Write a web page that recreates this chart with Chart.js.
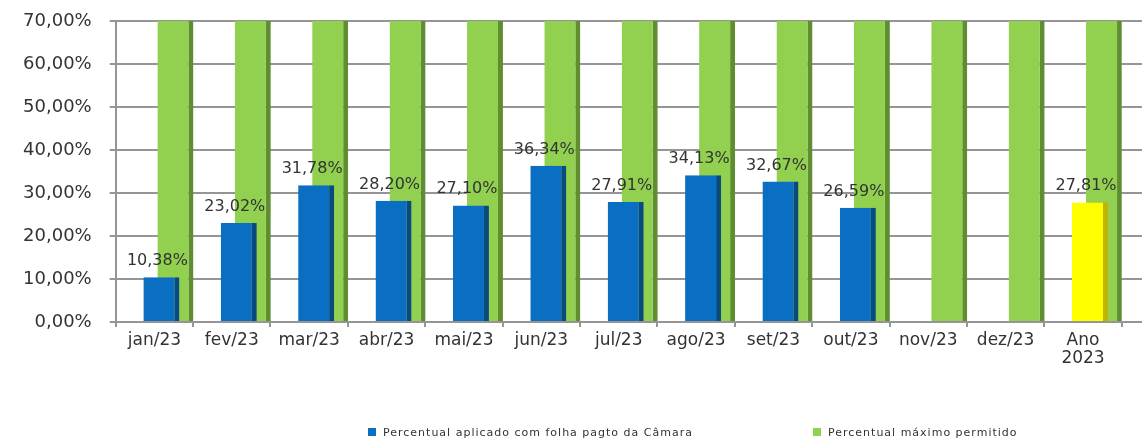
<!DOCTYPE html>
<html><head><meta charset="utf-8">
<script src="https://cdn.jsdelivr.net/npm/chart.js@4.4.0/dist/chart.umd.min.js"></script>
<style>
html,body{margin:0;padding:0;background:#fff;overflow:hidden;}
#wrap{position:relative;width:1142px;height:440px;}
#c{position:absolute;left:0;top:0;}
.lg{position:absolute;top:426px;font:11px "DejaVu Sans",sans-serif;letter-spacing:1px;color:#333;white-space:nowrap;line-height:14px;}
.lg i{display:inline-block;width:8px;height:8px;margin-right:7px;vertical-align:0px;}
</style></head><body>
<div id="wrap"><canvas id="c" width="1142" height="440"></canvas><div id="legend"></div></div>
<script>
const categories = ['jan/23','fev/23','mar/23','abr/23','mai/23','jun/23','jul/23','ago/23','set/23','out/23','nov/23','dez/23',['Ano','2023']];
const appliedPct = [10.38,23.02,31.78,28.20,27.10,36.34,27.91,34.13,32.67,26.59,null,null,27.81];
const maxAllowedPct = [70,70,70,70,70,70,70,70,70,70,70,70,70];
const seriesNames = ['Percentual aplicado com folha pagto da Câmara','Percentual máximo permitido'];
const yMin = 0, yMax = 70, yStep = 10;

const BLUE = '#0A6FC2', BLUE_D = '#0B4A80';
const YELLOW = '#FFFF00', YELLOW_D = '#BDB500';
const GREEN = '#92D050', GREEN_D = '#5E8E30';
const GRID = '#959595';
const annualIdx = categories.length - 1;

const pct = v => v.toFixed(2).replace('.', ',') + '%';
const spacer = () => categories.map(() => null);

// legend (HTML)
const legendPos = [368, 813];
const legendCol = [BLUE, GREEN];
document.getElementById('legend').innerHTML = seriesNames.map((n, i) =>
  `<div class="lg" style="left:${legendPos[i]}px"><i style="background:${legendCol[i]}"></i>${n}</div>`).join('');

const valueLabels = {
  id: 'valueLabels',
  afterDatasetsDraw(chart) {
    const meta = chart.getDatasetMeta(2);
    const c = chart.ctx;
    c.save();
    c.font = '16px "DejaVu Sans"';
    c.fillStyle = '#333';
    c.textAlign = 'center';
    c.textBaseline = 'alphabetic';
    meta.data.forEach((bar, i) => {
      const v = appliedPct[i];
      if (v == null) return;
      c.fillText(pct(v), bar.x - 4, bar.y - 12);
    });
    c.restore();
  }
};

const gridExtend = {
  id: 'gridExtend',
  beforeDatasetsDraw(chart) {
    const { ctx, chartArea, scales: { y } } = chart;
    ctx.save();
    ctx.strokeStyle = GRID;
    ctx.lineWidth = 2;
    y.ticks.forEach(t => {
      const py = Math.round(y.getPixelForValue(t.value));
      ctx.beginPath();
      ctx.moveTo(chartArea.right, py);
      ctx.lineTo(chart.width, py);
      ctx.stroke();
    });
    ctx.restore();
  }
};

new Chart(document.getElementById('c'), {
  type: 'bar',
  data: {
    labels: categories,
    datasets: [
      { label: 'spacer1', data: spacer() },
      { label: 'spacer2', data: spacer() },
      {
        label: seriesNames[0], data: appliedPct,
        backgroundColor: ctx => ctx.dataIndex === annualIdx ? YELLOW : BLUE,
        borderColor: ctx => ctx.dataIndex === annualIdx ? YELLOW_D : BLUE_D,
        borderWidth: { top: 0, right: 5, bottom: 0, left: 0 }, borderSkipped: false
      },
      {
        label: seriesNames[1], data: maxAllowedPct,
        backgroundColor: GREEN, borderColor: GREEN_D,
        borderWidth: { top: 0, right: 5, bottom: 0, left: 0 }, borderSkipped: false
      }
    ]
  },
  options: {
    responsive: false,
    animation: false,
    datasets: { bar: { categoryPercentage: 0.7243, barPercentage: 2.571 } },
    layout: { padding: { top: 21, right: 20.3, left: 0, bottom: 0 } },
    plugins: { legend: { display: false }, tooltip: { enabled: false } },
    scales: {
      x: {
        offset: true,
        grid: { offset: true, drawOnChartArea: false, drawTicks: true, tickLength: 5, color: GRID, lineWidth: 2 },
        border: { color: GRID, width: 2 },
        ticks: { font: { family: 'DejaVu Sans', size: 17, lineHeight: 1.1 }, color: '#333', padding: 4, maxRotation: 0, autoSkip: false },
        afterFit: s => { s.height = 118; }
      },
      y: {
        min: yMin, max: yMax,
        ticks: { stepSize: yStep, callback: v => pct(v), font: { family: 'DejaVu Sans', size: 18 }, color: '#333', padding: 18 },
        grid: { color: GRID, lineWidth: 2, tickLength: 6 },
        border: { color: GRID, width: 2 },
        afterFit: s => { s.width = 115.7; s.paddingTop = 10; s.paddingBottom = 10; }
      }
    }
  },
  plugins: [gridExtend, valueLabels]
});
</script>
</body></html>
